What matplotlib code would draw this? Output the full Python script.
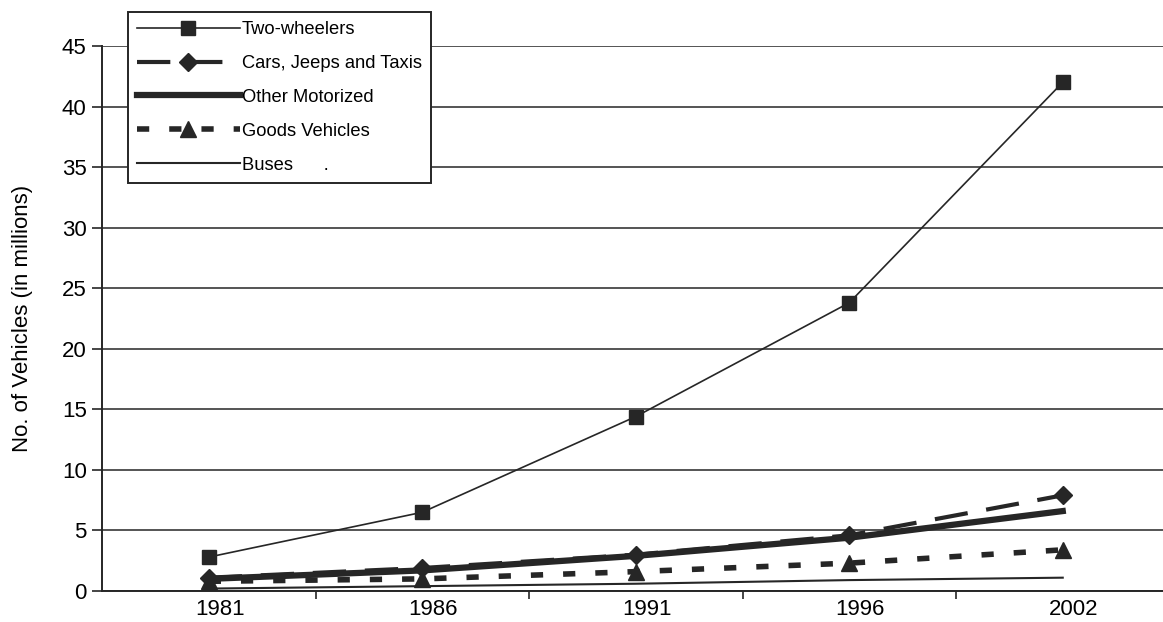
"""
Growth of registered motor vehicles, 1981-2002.
"""
import matplotlib
matplotlib.use("Agg")
import matplotlib.pyplot as plt
import matplotlib.transforms as mtransforms
import numpy as np

plt.rcParams["font.family"] = ["Liberation Sans", "DejaVu Sans"]

years = ["1981", "1986", "1991", "1996", "2002"]
two_wheelers = [2.8, 6.5, 14.4, 23.8, 42.0]
cars_jeeps_taxis = [1.1, 1.9, 3.0, 4.6, 7.9]
other_motorized = [1.0, 1.7, 2.9, 4.4, 6.6]
goods_vehicles = [0.8, 1.0, 1.6, 2.3, 3.4]
buses = [0.2, 0.4, 0.6, 0.9, 1.1]

ink = "#262626"

fig = plt.figure(figsize=(11.63, 6.22), dpi=100)
ax = fig.add_axes([102 / 1163, 31 / 622, 1061 / 1163, 545 / 622])

x = np.arange(len(years))

ax.plot(x, buses, color=ink, lw=1.5, label="Buses      .", zorder=3)
ax.plot(x, goods_vehicles, color=ink, lw=4, linestyle=(0, (2.2, 3.6)),
        marker="^", ms=12, label="Goods Vehicles", zorder=4)
ax.plot(x, other_motorized, color=ink, lw=4.5, label="Other Motorized", zorder=5)
ax.plot(x, cars_jeeps_taxis, color=ink, lw=3, linestyle=(0, (8, 4.5)),
        marker="D", ms=9, label="Cars, Jeeps and Taxis", zorder=6)
ax.plot(x, two_wheelers, color=ink, lw=1.2, marker="s", ms=10,
        label="Two-wheelers", zorder=7)

ax.set_xlim(-0.5, -0.5 + 1061 / 213.5)
ax.set_ylim(0, 45)
ax.set_yticks(range(0, 46, 5))
ax.yaxis.grid(True, color=ink, lw=1.1)
ax.set_axisbelow(True)

# year labels sit a little right of the points, tick marks between categories
ax.set_xticks(x)
ax.set_xticklabels(years)
ax.set_xticks(np.arange(0.5, 4.0, 1.0), minor=True)
ax.tick_params(axis="x", which="major", length=0, pad=6, labelsize=16)
ax.tick_params(axis="x", which="minor", length=6, width=1.2, color=ink)
ax.tick_params(axis="y", length=7, width=1.2, color=ink, labelsize=16, pad=4)
shift = mtransforms.ScaledTranslation(0.11, 0, fig.dpi_scale_trans)
for lbl in ax.get_xticklabels():
    lbl.set_transform(lbl.get_transform() + shift)

for side in ("top", "right"):
    ax.spines[side].set_visible(False)
for side in ("left", "bottom"):
    ax.spines[side].set_color(ink)
    ax.spines[side].set_linewidth(1.4)

ax.set_ylabel("No. of Vehicles (in millions)", fontsize=16)
ax.yaxis.set_label_coords(-0.065, 0.5)

handles, labels = ax.get_legend_handles_labels()
order = [4, 3, 2, 1, 0]
leg = fig.legend([handles[i] for i in order], [labels[i] for i in order],
                 loc="upper left", bbox_to_anchor=(128 / 1163, 1 - 12 / 622),
                 bbox_transform=fig.transFigure, borderaxespad=0,
                 fontsize=13.2, handlelength=5.6, handletextpad=0.1,
                 labelspacing=0.92, borderpad=0.5, numpoints=1,
                 fancybox=False, framealpha=1, edgecolor=ink)
leg.get_frame().set_linewidth(1.4)

fig.savefig("out.png", dpi=100)
